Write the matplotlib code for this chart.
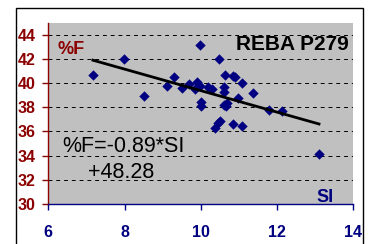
import matplotlib
matplotlib.use("Agg")
import matplotlib.pyplot as plt
from matplotlib.patches import Rectangle
import numpy as np

plt.rcParams['font.family'] = ['Liberation Sans', 'DejaVu Sans']

si = [7.17, 7.99, 8.50, 9.11, 9.29, 9.51, 9.68, 9.86, 9.90, 9.97, 9.99, 10.01,
      10.01, 10.20, 10.30, 10.37, 10.46, 10.50, 10.49, 10.61, 10.61, 10.61,
      10.64, 10.65, 10.70, 10.85, 10.85, 10.90, 10.98, 11.07, 11.07, 11.38,
      11.80, 12.12, 13.10]
pf = [40.7, 42.0, 38.9, 39.75, 40.5, 39.56, 39.94, 39.5, 40.08, 43.12, 39.78,
      38.48, 38.07, 39.64, 39.5, 36.27, 36.74, 36.9, 42.0, 39.72, 39.25, 38.2,
      40.69, 38.07, 38.34, 36.6, 40.63, 40.5, 38.76, 36.49, 40.0, 39.17,
      37.79, 37.7, 34.14]
slope = -0.89
intercept = 48.28
x_ticks = [6, 8, 10, 12, 14]
y_ticks = [30, 32, 34, 36, 38, 40, 42, 44]

RED = '#8B0000'
NAVY = '#000080'
W, H = 371, 244

fig = plt.figure(figsize=(3.71, 2.44), dpi=100)
fig.patch.set_facecolor('white')
ax = fig.add_axes([48.3/W, 1-204/H, (353.3-48.3)/W, (204-22.7)/H])
ax.set_facecolor('#C0C0C0')
ax.set_xlim(6, 14)
ax.set_ylim(30, 45)

for y in y_ticks[1:]:
    ax.axhline(y, color='black', lw=0.7, dashes=(4, 4), zorder=1)

ax.scatter(si, pf, marker='D', s=28, color=NAVY, zorder=3, linewidths=0)
xf = np.array([min(si), max(si)])
ax.plot(xf, slope*xf + intercept, color='black', lw=2, zorder=4)

for s in ['top', 'right']:
    ax.spines[s].set_visible(False)
ax.spines['left'].set_color(RED)
ax.spines['bottom'].set_color(NAVY)
ax.spines['left'].set_linewidth(1)
ax.spines['bottom'].set_linewidth(1)

ax.set_xticks(x_ticks)
ax.set_yticks(y_ticks)
ax.tick_params(axis='x', colors=NAVY, length=4, width=1, pad=11, labelsize=11.5)
ax.tick_params(axis='y', colors=RED, length=4, width=1, pad=5, labelsize=11.5)
for lab in ax.get_xticklabels() + ax.get_yticklabels():
    lab.set_fontweight('bold')

def px(x, y):
    return x / W, 1 - y / H

fig.text(*px(58, 49), '%F', color=RED, fontsize=13, fontweight='bold',
         va='center', ha='left')
fig.text(*px(349, 45), 'REBA P279', color='black', fontsize=15,
         fontweight='bold', ha='right', va='center')
fig.text(*px(62, 147), '%F=-0.89*SI', color='black', fontsize=15.5,
         ha='left', va='center')
fig.text(*px(88, 172), '+48.28', color='black', fontsize=15.5,
         ha='left', va='center')
fig.text(*px(316, 197), 'SI', color=NAVY, fontsize=13,
         fontweight='bold', ha='left', va='center')

fig.add_artist(Rectangle((16/W, -0.1), (363-16)/W, 1.1 - 8/H, transform=fig.transFigure,
                         fill=False, edgecolor='black', lw=1))

fig.savefig('out.png', dpi=100)
